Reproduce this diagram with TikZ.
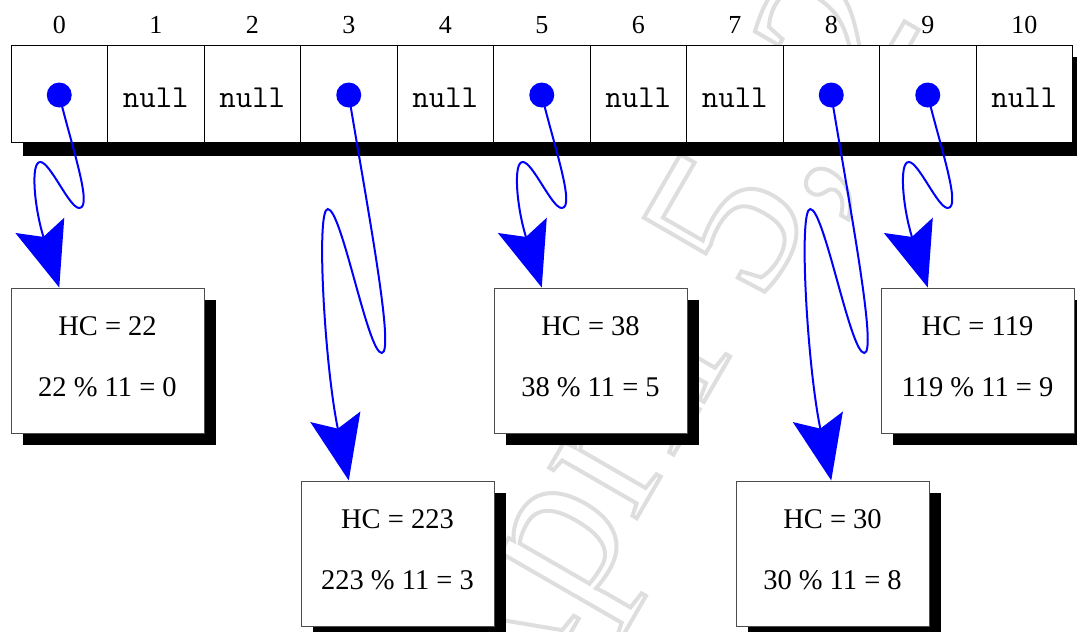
\documentclass[tikz,border=0pt]{standalone}
\usepackage{fontspec}
\setmainfont{Liberation Serif}
\usetikzlibrary{arrows.meta,calc,shadows,backgrounds}
\tikzset{
  cell/.style={rectangle, draw=black, line width=1pt, fill=white,
    minimum width=96.5pt, minimum height=97pt, inner sep=0pt,
    text height=27pt, text depth=0pt, font=\fontsize{32}{34}\ttfamily},
  dot/.style={circle, fill=blue, inner sep=0pt, minimum size=25pt},
  idx/.style={anchor=base, inner sep=0pt, font=\fontsize{26}{30}\selectfont},
  hbox/.style={rectangle, draw=black!70, line width=1pt, fill=white,
    minimum width=193pt, minimum height=145pt, inner sep=0pt,
    drop shadow={shadow xshift=12pt, shadow yshift=-12pt, opacity=1, fill=black}},
  boxtxt/.style={anchor=base, inner sep=0pt, font=\fontsize{28.5}{30}\selectfont},
  link/.style={draw=blue, line width=2pt,
    -{Stealth[length=65pt, width=51pt, inset=12pt]}},
  wm/.style={inner sep=0pt, text=black!13, font=\fontsize{220}{220}\selectfont}
}
\begin{document}
\begin{tikzpicture}[x=1pt,y=-1pt]
\useasboundingbox (0,0) rectangle (1077,632);
% array cells
\foreach \i/\t in {0/,1/null,2/null,3/,4/null,5/,6/null,7/null,8/,9/,10/null}{
  \node[cell] (c\i) at ({11+96.5*(\i+0.5)}, 93.5) {\t};
  \node[idx] (i\i) at ($(c\i.north)+(0,-11)$) {\i};
}
% dots
\foreach \i in {0,3,5,8,9}{
  \node[dot] (d\i) at ($(c\i.center)+(0,1.5)$) {};
}
% boxes
\node[hbox] (b0) at (107.5,360.5) {};
\node[hbox] (b5) at (590.5,360.5) {};
\node[hbox] (b9) at (977.5,360.5) {};
\node[hbox] (b3) at (397.5,553.5) {};
\node[hbox] (b8) at (832.5,553.5) {};
\node[boxtxt] (b0a) at ($(b0.north)+(0,48)$) {HC = 22};
\node[boxtxt] (b0b) at ($(b0.north)+(0,108.7)$) {22 \% 11 = 0};
\node[boxtxt] (b5a) at ($(b5.north)+(0,48)$) {HC = 38};
\node[boxtxt] (b5b) at ($(b5.north)+(0,108.7)$) {38 \% 11 = 5};
\node[boxtxt] (b9a) at ($(b9.north)+(0,48)$) {HC = 119};
\node[boxtxt] (b9b) at ($(b9.north)+(0,108.7)$) {119 \% 11 = 9};
\node[boxtxt] (b3a) at ($(b3.north)+(0,48)$) {HC = 223};
\node[boxtxt] (b3b) at ($(b3.north)+(0,108.7)$) {223 \% 11 = 3};
\node[boxtxt] (b8a) at ($(b8.north)+(0,48)$) {HC = 30};
\node[boxtxt] (b8b) at ($(b8.north)+(0,108.7)$) {30 \% 11 = 8};
% links: short ones
\foreach \i in {0,5,9}{
  \draw[link] (d\i.center) .. controls +(12,50) and +(14,0) .. ++(20,113)
    .. controls +(-10,0) and +(10,0) .. ++(-39,-46)
    .. controls +(-10,0) and +(-25,-80) .. (d\i |- b\i.north);
}
% links: long ones
\foreach \i in {3,8}{
  \draw[link] (d\i.center) .. controls +(20,120) and +(13,0) .. ++(33,258)
    .. controls +(-14,0) and +(14,0) .. ++(-54,-144)
    .. controls +(-12,0) and +(-24,-114) .. (d\i |- b\i.north);
}
% background: watermark and array shadow
\begin{scope}[on background layer]
  \node[wm, rotate=60, anchor=base west] (wm) at (500,755)
    {\special{pdf:literal direct 1 Tr 4 w}April 5, 2005};
  \fill[black] ($(c0.north west)+(12,12)$) rectangle ($(c10.south east)+(12,13)$);
\end{scope}
\end{tikzpicture}
\end{document}
